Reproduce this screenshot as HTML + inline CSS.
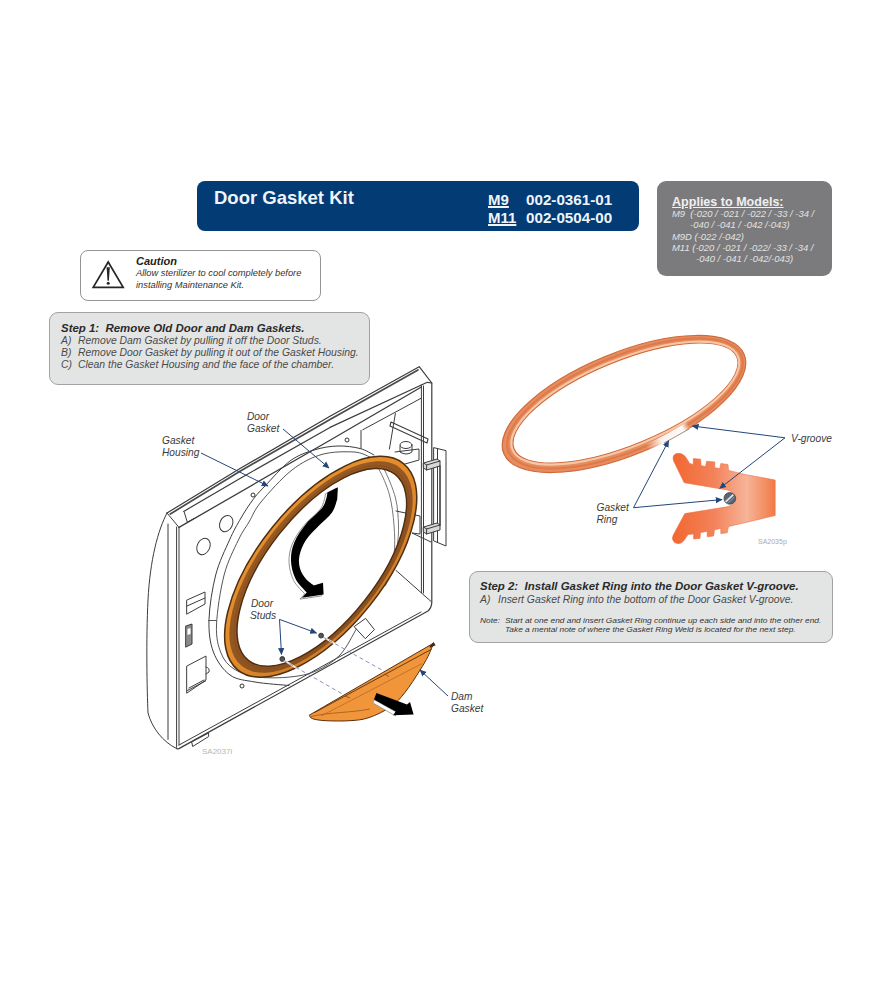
<!DOCTYPE html>
<html><head><meta charset="utf-8">
<style>
html,body{margin:0;padding:0;background:#fff;}
body{width:875px;height:1000px;position:relative;overflow:hidden;font-family:"Liberation Sans",sans-serif;}
.abs{position:absolute;white-space:pre;line-height:1;}
#hdr{position:absolute;left:197px;top:181px;width:442px;height:50px;background:#033b74;border-radius:8px;}
#apl{position:absolute;left:657px;top:181px;width:175px;height:95px;background:#7b7b7d;border-radius:9px;}
#cau{position:absolute;left:79.5px;top:249.5px;width:241.5px;height:51.5px;border:1.3px solid #959595;border-radius:8px;box-sizing:border-box;}
#st1{position:absolute;left:49px;top:312px;width:320.5px;height:72.5px;background:#e3e5e5;border:1.5px solid #a2a2a2;border-radius:9px;box-sizing:border-box;}
#st2{position:absolute;left:469px;top:571px;width:363.5px;height:72px;background:#e3e5e5;border:1.5px solid #a2a2a2;border-radius:9px;box-sizing:border-box;}
svg{position:absolute;left:0;top:0;}
</style></head><body>
<div id="hdr"></div>
<div id="apl"></div>
<div id="cau"></div>
<div id="st1"></div>
<div id="st2"></div>

<!-- header text -->
<div class="abs" style="left:214px;top:189px;font-size:18.5px;font-weight:bold;color:#eef4fb;">Door Gasket Kit</div>
<div class="abs" style="left:488px;top:192px;font-size:15px;font-weight:bold;color:#eef4fb;"><u style="text-decoration-thickness:1.5px;text-underline-offset:1px">M9</u></div>
<div class="abs" style="left:526px;top:192px;font-size:15.2px;font-weight:bold;color:#eef4fb;">002-0361-01</div>
<div class="abs" style="left:488px;top:210px;font-size:15px;font-weight:bold;color:#eef4fb;"><u style="text-decoration-thickness:1.5px;text-underline-offset:1px">M11</u></div>
<div class="abs" style="left:526px;top:210px;font-size:15.2px;font-weight:bold;color:#eef4fb;">002-0504-00</div>

<!-- applies -->
<div class="abs" style="left:672px;top:195.5px;font-size:12.55px;font-weight:bold;color:#f0f0f0;"><u>Applies to Models:</u></div>
<div class="abs" style="left:672px;top:209px;font-size:9.45px;font-style:italic;color:#e2e2e2;">M9  (-020 / -021 / -022 / -33 / -34 /</div>
<div class="abs" style="left:690px;top:220px;font-size:9.45px;font-style:italic;color:#e2e2e2;">-040 / -041 / -042 /-043)</div>
<div class="abs" style="left:672px;top:232px;font-size:9.45px;font-style:italic;color:#e2e2e2;">M9D (-022 /-042)</div>
<div class="abs" style="left:672px;top:243px;font-size:9.45px;font-style:italic;color:#e2e2e2;">M11 (-020 / -021 / -022/ -33 / -34 /</div>
<div class="abs" style="left:696px;top:254px;font-size:9.45px;font-style:italic;color:#e2e2e2;">-040 / -041 / -042/-043)</div>

<!-- caution -->
<div class="abs" style="left:136px;top:256px;font-size:11px;font-weight:bold;font-style:italic;color:#222;">Caution</div>
<div class="abs" style="left:136px;top:269px;font-size:9.3px;font-style:italic;color:#333;">Allow sterilizer to cool completely before</div>
<div class="abs" style="left:136px;top:281px;font-size:9.3px;font-style:italic;color:#333;">installing Maintenance Kit.</div>

<!-- step 1 -->
<div class="abs" style="left:61px;top:323.3px;font-size:11.45px;font-weight:bold;font-style:italic;color:#2a2a2a;">Step 1:  Remove Old Door and Dam Gaskets.</div>
<div class="abs" style="left:61px;top:336.3px;font-size:10.4px;font-style:italic;color:#4a4a4a;">A)</div>
<div class="abs" style="left:78px;top:336.3px;font-size:10.4px;font-style:italic;color:#4a4a4a;">Remove Dam Gasket by pulling it off the Door Studs.</div>
<div class="abs" style="left:61px;top:348.4px;font-size:10.4px;font-style:italic;color:#4a4a4a;">B)</div>
<div class="abs" style="left:78px;top:348.4px;font-size:10.4px;font-style:italic;color:#4a4a4a;">Remove Door Gasket by pulling it out of the Gasket Housing.</div>
<div class="abs" style="left:61px;top:360.4px;font-size:10.4px;font-style:italic;color:#4a4a4a;">C)</div>
<div class="abs" style="left:78px;top:360.4px;font-size:10.4px;font-style:italic;color:#4a4a4a;">Clean the Gasket Housing and the face of the chamber.</div>

<!-- step 2 -->
<div class="abs" style="left:480px;top:581.4px;font-size:11.45px;font-weight:bold;font-style:italic;color:#2a2a2a;">Step 2:  Install Gasket Ring into the Door Gasket V-groove.</div>
<div class="abs" style="left:480px;top:594.5px;font-size:10.4px;font-style:italic;color:#4a4a4a;">A)</div>
<div class="abs" style="left:498px;top:594.5px;font-size:10.4px;font-style:italic;color:#4a4a4a;">Insert Gasket Ring into the bottom of the Door Gasket V-groove.</div>
<div class="abs" style="left:480px;top:617px;font-size:7.6px;font-style:italic;color:#333;transform-origin:0 0;transform:scaleX(1.1);">Note:</div>
<div class="abs" style="left:505px;top:617px;font-size:7.6px;font-style:italic;color:#333;transform-origin:0 0;transform:scaleX(1.1);">Start at one end and insert Gasket Ring continue up each side and into the other end.</div>
<div class="abs" style="left:505px;top:626px;font-size:7.6px;font-style:italic;color:#333;transform-origin:0 0;transform:scaleX(1.1);">Take a mental note of where the Gasket Ring Weld is located for the next step.</div>

<svg width="875" height="1000" viewBox="0 0 875 1000">
<defs>
<marker id="ah" viewBox="0 0 10 10" refX="9" refY="5" markerWidth="7" markerHeight="7" markerUnits="userSpaceOnUse" orient="auto"><path d="M0,0.5 L10,5 L0,9.5 z" fill="#22467a"/></marker>
<linearGradient id="vg" gradientUnits="userSpaceOnUse" x1="672" y1="0" x2="776" y2="0"><stop offset="0" stop-color="#f26630"/><stop offset="0.4" stop-color="#f3825a"/><stop offset="0.72" stop-color="#f6b498"/><stop offset="1" stop-color="#f27842"/></linearGradient>
<linearGradient id="weld" gradientUnits="userSpaceOnUse" x1="648" y1="450" x2="690" y2="427"><stop offset="0" stop-color="#fff" stop-opacity="0"/><stop offset="0.35" stop-color="#fff" stop-opacity="0.9"/><stop offset="0.85" stop-color="#fff" stop-opacity="0.95"/><stop offset="1" stop-color="#fff" stop-opacity="0"/></linearGradient>
<linearGradient id="rorange" gradientUnits="userSpaceOnUse" x1="240" y1="470" x2="420" y2="660"><stop offset="0" stop-color="#ec962e"/><stop offset="0.5" stop-color="#e08a2a"/><stop offset="1" stop-color="#b86c26"/></linearGradient>
<linearGradient id="rbrown" gradientUnits="userSpaceOnUse" x1="240" y1="470" x2="420" y2="660"><stop offset="0" stop-color="#a26026"/><stop offset="1" stop-color="#7e4a1e"/></linearGradient>
<clipPath id="hclip"><path d="M100,380 L345,380 L372,452 L345,560 L365,625 L421,612 L178.9,746 L100,760 Z"/></clipPath>
<clipPath id="cclip"><path d="M360,440 L440,440 L440,640 L360,640 Z"/></clipPath>
</defs>

<!-- caution triangle -->
<path d="M108.2,262 L93.2,287.3 L123.2,287.3 Z" fill="none" stroke="#262626" stroke-width="1.7" stroke-linejoin="miter"/>
<path d="M106.6,267.2 L109.8,267.2 L108.9,280.8 L107.5,280.8 Z" fill="#262626"/>
<circle cx="108.2" cy="283.2" r="1.5" fill="#262626"/>

<!-- ===== DOOR FRAME ===== -->
<g fill="none" stroke="#3c3c3c" stroke-width="1" stroke-linejoin="round" stroke-linecap="round">
  <path d="M167,513 C158,530 150,560 148,600 C146,640 147,690 148,713 C152,728 163,742 176.6,748.6"/>
  <path d="M168,524 L168,739.4"/>
  <path d="M176.6,527 L176.6,747.4"/>
  <path d="M179,527.4 L179,745"/>
  <path d="M167,513 L179,527.4"/>
  <path d="M167,513 L240,468.6 L330,416.3 L419.2,366.7 L431.8,383 L431.8,602.4 Q431.5,608 428,611 L178.9,748.6 Q177,749 176.6,748.6" stroke-width="1.2"/>
  <path d="M170.3,514 L240,471.2 L330,419.6 L418,370" stroke-width="1.7" stroke="#4a4a4a"/>
  <path d="M179,527.4 L330,440.2 L421.4,387" stroke-width="1.3"/>
  <path d="M183.7,511.4 L240,478.5 L330,427.4 L427.3,382.3 L431.8,383" stroke-width="1.2"/>
  <path d="M184.2,512 L187.3,522.2 L194,518.6"/>
  <path d="M362.7,429.8 L421,398.3"/>
  <path d="M421.4,385 L421.4,592.8"/>
  <path d="M423.5,386 L423.5,593"/>
  <path d="M396,570.4 L431.2,601.6"/>
  <path d="M178.9,745.1 L421,612"/>
  <path d="M192,741.7 L208.6,733 L208.6,736.6 L193,746.3 z"/>
  <ellipse cx="203.5" cy="546.5" rx="6.3" ry="8.5" transform="rotate(25 203.5 546.5)"/>
  <ellipse cx="226.2" cy="523.6" rx="6.3" ry="8.5" transform="rotate(25 226.2 523.6)"/>
  <path d="M187,600 L205,592 L205,604 L187,614 z"/>
  <path d="M187,606 L205,598"/>
  <path d="M186,626 L192,624 L192,644 L186,647 z" fill="#8a8a8a"/><path d="M187.5,629 L190.5,628 L190.5,634 L187.5,635 z" fill="#fff" stroke="none"/>
  <path d="M187,666 L206,656 L206,680 L187,693 z"/>
  <path d="M189,688 L204,680"/><path d="M187.5,690.5 L205.5,681"/><path d="M206,667 Q210,668 209,672 L206,674"/>
  <path d="M374.0,455.0 C371.7,453.9 366.0,450.0 360.0,448.5 C354.0,447.0 345.7,445.8 338.0,446.0 C330.3,446.2 322.0,447.5 314.0,450.0 C306.0,452.5 298.2,455.0 290.0,461.0 C281.8,467.0 271.2,479.6 265.0,486.0 C258.8,492.4 257.0,494.3 253.0,499.6 C249.0,504.9 244.9,511.3 241.0,518.0 C237.1,524.7 233.7,530.5 229.5,540.0 C225.3,549.5 219.1,561.8 215.7,575.0 C212.3,588.2 209.4,606.6 209.0,619.4 C208.6,632.2 209.9,642.7 213.4,652.0 C216.9,661.3 223.1,670.0 230.0,675.0 C236.9,680.0 245.2,680.2 255.0,682.0 C264.8,683.8 283.3,684.9 289.0,685.5"/>
  <path d="M370.0,457.0 C367.3,456.2 362.0,452.4 354.0,452.0 C346.0,451.6 332.3,451.4 322.0,454.4 C311.7,457.4 302.2,462.1 292.0,470.0 C281.8,477.9 268.2,493.3 261.0,502.0 C253.8,510.7 252.8,515.7 249.0,522.0 C245.2,528.3 242.6,531.2 238.4,540.0 C234.2,548.8 227.8,560.8 224.1,575.0 C220.4,589.2 217.0,612.0 216.5,625.0 C216.0,638.0 218.1,645.7 221.0,653.0 C223.9,660.3 227.8,665.0 234.0,669.0 C240.2,673.0 248.7,675.7 258.0,677.0 C267.3,678.3 280.3,678.0 290.0,677.0 C299.7,676.0 307.7,674.7 316.0,671.0 C324.3,667.3 333.3,662.0 340.0,655.0 C346.7,648.0 353.6,633.3 356.3,629.0" stroke="#555"/>
  <path d="M208.5,620.5 L216.5,620.5" stroke="#555"/>
  <path d="M372.0,466.0 C373.2,466.6 376.1,464.7 379.0,469.5 C381.9,474.3 387.0,485.8 389.5,495.0 C392.0,504.2 393.2,515.0 394.0,525.0 C394.8,535.0 395.2,546.2 394.0,555.0 C392.8,563.8 389.2,571.3 386.5,577.5 C383.8,583.7 379.4,589.6 378.0,592.0" stroke="#777"/>
  <path d="M380.0,468.0 C380.8,468.5 382.4,466.0 385.0,471.0 C387.6,476.0 393.2,489.0 395.5,498.0 C397.8,507.0 398.2,516.8 398.5,525.0 C398.8,533.2 398.1,539.7 397.0,547.5 C395.9,555.3 394.0,565.6 392.0,572.0 C390.0,578.4 386.2,583.7 385.0,586.0" stroke="#777"/>
  <!-- inner wall and latch -->
  <path d="M361,430.5 L361,448"/>
  <path d="M395.4,413.5 L389.4,449"/>
  <path d="M391,422 L428,439 L427,443 L390,426 z" stroke-width="1.1"/>
  <path d="M400,446 L400,452 Q406,456 412,452 L412,446"/>
  <ellipse cx="406" cy="445" rx="6" ry="3.5"/>
  <path d="M395,452 L419,449 L419,460 L398,466"/>
  <path d="M354.4,626.4 L365.6,618.4 L374.4,629.6 L365.6,638.4 z"/>
  <!-- hinge -->
  <path d="M434,447.7 L446,450.6 L446,546 L434,541 z"/>
  <path d="M437.5,449 L437.5,542"/>
  <path d="M423.6,463 L437,459 L440,461 L440,466 L426.6,470 L423.6,468 z" fill="#d8d8d8"/>
  <path d="M423.6,463 L426.6,465 L440,461 M426.6,465 L426.6,470"/>
  <path d="M423.6,527 L437,523 L440,525 L440,530 L426.6,534 L423.6,532 z" fill="#d8d8d8"/>
  <path d="M423.6,527 L426.6,529 L440,525 M426.6,529 L426.6,534"/>
  <path d="M440,466 L440,525" stroke-width="1.6"/>
  <path d="M396,511 L420,516 L420,534 L412,533 L431,542"/>
</g>
<g fill="#fff" stroke="#333" stroke-width="1">
  <circle cx="321.1" cy="635.6" r="2.4" fill="#555"/>
  <circle cx="282.3" cy="659" r="2.4" fill="#555"/>
  <circle cx="242" cy="686" r="2"/>
  <circle cx="253" cy="495" r="2"/>
  <circle cx="347" cy="440" r="2"/>
</g>

<!-- ===== DOOR GASKET RING ===== -->
<path d="M403.42,463.55 A132.30,62.30 -51.30 1 0 237.98,670.05 A132.30,62.30 -51.30 1 0 403.42,463.55 Z M395.24,474.40 A118.50,54.10 -51.70 1 0 248.36,660.40 A118.50,54.10 -51.70 1 0 395.24,474.40 Z" fill="url(#rbrown)" fill-rule="evenodd"/>
<path d="M403.42,463.55 A132.30,62.30 -51.30 1 0 237.98,670.05 A132.30,62.30 -51.30 1 0 403.42,463.55 Z M400.11,467.90 A126.80,59.20 -51.40 1 0 241.89,666.10 A126.80,59.20 -51.40 1 0 400.11,467.90 Z" fill="url(#rorange)" fill-rule="evenodd"/>
<path d="M403.42,463.55 A132.30,62.30 -51.30 1 0 237.98,670.05 A132.30,62.30 -51.30 1 0 403.42,463.55 Z M395.24,474.40 A118.50,54.10 -51.70 1 0 248.36,660.40 A118.50,54.10 -51.70 1 0 395.24,474.40 Z" fill="none" stroke="#4f2e12" stroke-width="1.5"/>
<g transform="rotate(-51.6 321.5 567.2)" fill="none">
  <ellipse cx="321.5" cy="567.2" rx="121.5" ry="56" stroke="#8a4e1c" stroke-width="1"/>
</g>

<!-- ===== BLACK CURVED ARROW ===== -->
<path d="M337.9,487.2 L337.2,499.5 C336.3,501.7 335.0,508.2 332.0,512.5 C329.0,516.8 323.3,520.9 319.0,525.5 C314.7,530.1 309.2,535.0 306.0,540.0 C302.8,545.0 300.5,550.8 299.5,555.5 C298.5,560.2 298.9,564.6 300.0,568.5 C301.1,572.4 303.7,576.2 306.0,579.0 C308.3,581.8 312.5,584.3 313.8,585.4 L323,582.8 L323.6,594.5 L302,597.7 L306.7,592.5 C304.9,590.2 298.2,584.3 295.6,579.0 C293.0,573.7 291.2,566.8 291.0,560.7 C290.8,554.6 291.8,548.6 294.3,542.5 C296.8,536.4 301.4,529.6 306.0,524.0 C310.6,518.4 318.3,512.7 321.6,508.6 C324.9,504.5 325.0,502.2 326.0,499.5 C327.0,496.8 327.2,493.6 327.5,492.4 Z" fill="#000" stroke="#fff" stroke-width="1.4"/>
<path d="M337.9,487.2 L337.2,499.5 C336.3,501.7 335.0,508.2 332.0,512.5 C329.0,516.8 323.3,520.9 319.0,525.5 C314.7,530.1 309.2,535.0 306.0,540.0 C302.8,545.0 300.5,550.8 299.5,555.5 C298.5,560.2 298.9,564.6 300.0,568.5 C301.1,572.4 303.7,576.2 306.0,579.0 C308.3,581.8 312.5,584.3 313.8,585.4 L323,582.8 L323.6,594.5 L302,597.7 L306.7,592.5 C304.9,590.2 298.2,584.3 295.6,579.0 C293.0,573.7 291.2,566.8 291.0,560.7 C290.8,554.6 291.8,548.6 294.3,542.5 C296.8,536.4 301.4,529.6 306.0,524.0 C310.6,518.4 318.3,512.7 321.6,508.6 C324.9,504.5 325.0,502.2 326.0,499.5 C327.0,496.8 327.2,493.6 327.5,492.4 Z" fill="none" stroke="#777" stroke-width="0.8" transform="translate(-2,1.4)"/>
<path d="M337.9,487.2 L337.2,499.5 C336.3,501.7 335.0,508.2 332.0,512.5 C329.0,516.8 323.3,520.9 319.0,525.5 C314.7,530.1 309.2,535.0 306.0,540.0 C302.8,545.0 300.5,550.8 299.5,555.5 C298.5,560.2 298.9,564.6 300.0,568.5 C301.1,572.4 303.7,576.2 306.0,579.0 C308.3,581.8 312.5,584.3 313.8,585.4 L323,582.8 L323.6,594.5 L302,597.7 L306.7,592.5 C304.9,590.2 298.2,584.3 295.6,579.0 C293.0,573.7 291.2,566.8 291.0,560.7 C290.8,554.6 291.8,548.6 294.3,542.5 C296.8,536.4 301.4,529.6 306.0,524.0 C310.6,518.4 318.3,512.7 321.6,508.6 C324.9,504.5 325.0,502.2 326.0,499.5 C327.0,496.8 327.2,493.6 327.5,492.4 Z" fill="#000"/>

<g stroke="#fff" stroke-width="2" fill="none" opacity="0.9">
  <path d="M326,638.5 L338,645.5"/>
  <path d="M286,661.5 L298,669"/>
</g>
<g stroke="#7d86b0" stroke-width="0.9" stroke-dasharray="4,3" fill="none">
  <path d="M323,637 L385.4,672"/>
  <path d="M283.4,660.2 L344.6,695.2"/>
</g>

<!-- ===== DAM GASKET ===== -->
<path d="M433.5,643.2 C432.6,645.4 430.3,651.8 428.0,656.4 C425.7,661.0 423.4,664.8 419.6,670.8 C415.8,676.8 409.8,686.4 405.0,692.4 C400.2,698.4 396.8,702.6 390.8,706.8 C384.8,711.0 375.8,715.3 369.0,717.6 C362.2,719.9 357.2,720.2 350.0,720.7 C342.8,721.2 332.2,721.0 326.0,720.7 C319.8,720.4 315.6,719.7 312.8,718.8 C310.0,717.9 309.8,715.8 309.2,715.2 L426,647.5 Z" fill="#f0953a" stroke="#5a300c" stroke-width="1"/>
<path d="M431.6,649.2 L314,712.8" fill="none" stroke="#6a3a12" stroke-width="1"/>
<path d="M422,663.6 L321,716" fill="none" stroke="#b86a28" stroke-width="0.8"/>
<path d="M311,716.5 C330,712 350,713 370,709" fill="none" stroke="#a05a20" stroke-width="0.8"/>
<path d="M433.5,643.2 L430,647 L434.5,645 z" fill="#4a2a10" stroke="#4a2a10" stroke-width="1.5"/>
<path d="M374,699.6 L395.6,711.6 L395.6,716 L373,703 z" fill="#fff" stroke="#888" stroke-width="0.7"/>
<path d="M376.4,692.9 L407,704.5 L410,702 L413.6,714.5 L393.2,715.2 L395.6,711.6 L374,699.6 z" fill="#000"/>
<path d="M345,696 L350,698" stroke="#8a4a18" stroke-width="0.8"/><path d="M384,674 L389,676.5" stroke="#8a4a18" stroke-width="0.8"/>

<g stroke="#22467a" stroke-width="1" fill="none">
  <path d="M201,453 L268,486" marker-end="url(#ah)"/>
  <path d="M283,429 L329,468" marker-end="url(#ah)"/>
  <path d="M279.5,619.4 L281.5,654.4" marker-end="url(#ah)"/>
  <path d="M279.5,619.4 L316.5,633" marker-end="url(#ah)"/>
  <path d="M448,696 L420,670" marker-end="url(#ah)"/>
</g>
<g font-family="Liberation Sans" font-style="italic" font-size="10.2" fill="#3a3a3a">
  <text x="247" y="420">Door</text>
  <text x="247" y="432">Gasket</text>
  <text x="162" y="444">Gasket</text>
  <text x="162" y="456">Housing</text>
  <text x="251" y="607">Door</text>
  <text x="250" y="619">Studs</text>
  <text x="451" y="700">Dam</text>
  <text x="451" y="712">Gasket</text>
</g>
<text x="202" y="754" font-family="Liberation Sans" font-size="8" fill="#b5b5b5">SA2037i</text>

<!-- ===== COPPER RING ===== -->
<path d="M744.19,354.46 A130.00,51.00 -22.40 1 0 503.81,453.54 A130.00,51.00 -22.40 1 0 744.19,354.46 Z M736.91,357.08 A120.50,42.00 -22.40 1 0 514.09,448.92 A120.50,42.00 -22.40 1 0 736.91,357.08 Z" fill="#e68c5e" fill-rule="evenodd" stroke="#d06838" stroke-width="1.2"/>
<g transform="rotate(-22.4 625 403.5)" fill="none">
  <ellipse cx="625" cy="403.5" rx="126" ry="47.5" stroke="#dc7a4a" stroke-width="2"/>
  <ellipse cx="625.4" cy="403.2" rx="122" ry="43.5" stroke="#f7c6a6" stroke-width="2.2"/>
</g>
<path d="M648,450 Q670,440 690,427" stroke="url(#weld)" stroke-width="12" fill="none"/>
<path d="M664,443 Q677,436 689,429" stroke="#666" stroke-width="0.7" fill="none"/>
<!-- ===== V-GROOVE PROFILE ===== -->
<path d="M684.2,482.7 L673.6,461 Q671.5,454.5 677.5,453.3 Q682.5,452.8 685.5,456.8 L689.7,463.5 L693.3,464.4 L693.3,458.5 L700.6,459.2 L701.1,465.6 L705.5,466.6 L706.6,461.3 L714.8,461.9 L714.8,467.7 L719.8,468.6 L720.8,463.5 L728,464.5 L728.5,470.4 L745,474.5 L775.2,480 L775.2,515.5 L728.5,526.5 L727.2,532.8 L720.8,533.6 L720.8,528.4 L714.5,529.8 L713.6,536 L707.2,536.8 L707.2,531.4 L700.5,532.6 L700,538.4 L693.6,539 L693.6,534 L688,534.6 L684,540.6 Q680,545.5 674.5,542.5 Q671,539.5 673.2,535.2 L684.8,513.6 L727,506.8 Q734.5,505 736,498.4 Q735,491.8 727.5,490 Z" fill="url(#vg)" stroke="#f07040" stroke-width="0.6" stroke-linejoin="round"/>
<circle cx="729.8" cy="498.4" r="5.8" fill="#5a6673" stroke="#3a3a3a" stroke-width="0.8"/>
<path d="M725.6,501.8 L733.4,494.6" stroke="#dfe4ea" stroke-width="1.8"/><path d="M727.5,503.5 L734.6,497" stroke="#8a96a3" stroke-width="1"/>

<g stroke="#22467a" stroke-width="1" fill="none">
  <path d="M785,437.8 L692.3,426" marker-end="url(#ah)"/>
  <path d="M785,437.8 L719.7,488.4" marker-end="url(#ah)"/>
  <path d="M633.5,507.7 L668.6,440.8" marker-end="url(#ah)"/>
  <path d="M633.5,507.7 L722,499.6" marker-end="url(#ah)"/>
</g>
<g font-family="Liberation Sans" font-style="italic" font-size="10.2" fill="#3a3a3a">
  <text x="791" y="441.5">V-groove</text>
  <text x="596.5" y="510.6">Gasket</text>
  <text x="596.5" y="522.5">Ring</text>
</g>
<text x="758" y="544" font-family="Liberation Sans" font-size="7" fill="#aaa">SA2035p</text>
</svg>


</body></html>
